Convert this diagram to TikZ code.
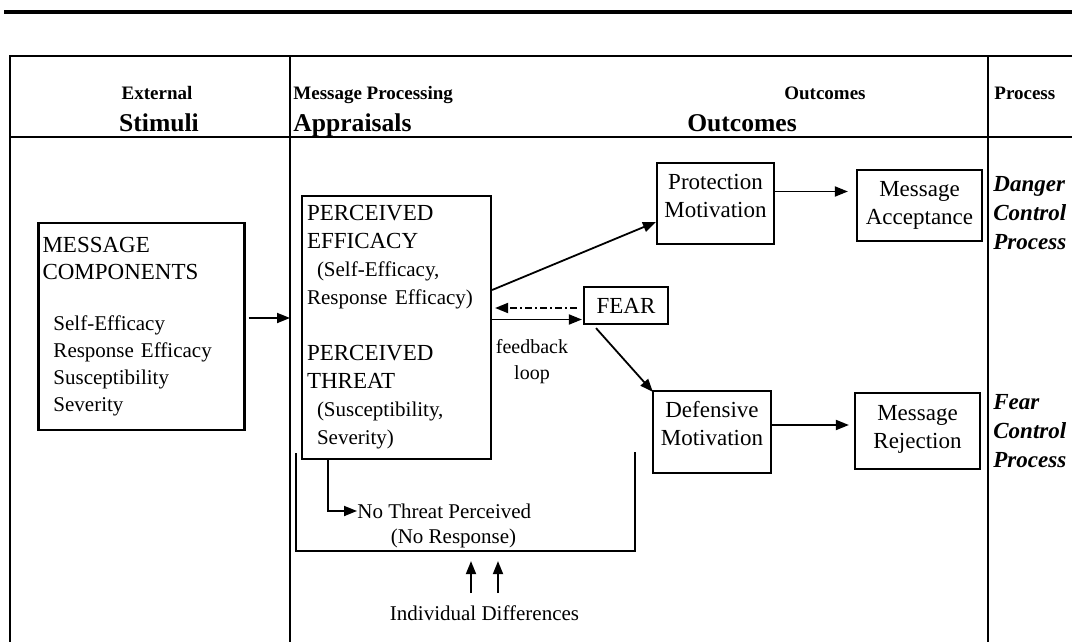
\documentclass[tikz,border=0pt]{standalone}
\usepackage{fontspec}
\setmainfont{Liberation Serif}
\usetikzlibrary{arrows.meta,positioning,calc}

\newcommand{\capfont}{\fontsize{11.5}{14}\selectfont}
\newcommand{\txtfont}{\fontsize{10.5}{13.5}\selectfont}

\begin{document}
\begin{tikzpicture}[x=0.5pt,y=-0.5pt,
            block/.style={rectangle, draw, line width=1.1pt, inner sep=2pt, font=\capfont, align=center},
            hdsmall/.style={font=\bfseries\fontsize{9.5}{11}\selectfont, inner sep=0pt, anchor=base},
            hdbig/.style={font=\bfseries\fontsize{12.8}{15}\selectfont, inner sep=0pt, anchor=base},
            proc/.style={font=\bfseries\itshape\fontsize{11.5}{14.4}\selectfont, align=left, inner sep=0pt, anchor=north west},
            lbl/.style={font=\txtfont, inner sep=0pt, align=center},
            arr/.style={-{Triangle[length=6.5pt,width=5pt]}, line width=0.9pt},
            rule/.style={line width=1pt}
        ]

        \useasboundingbox (0,0) rectangle (1072,642);

        % table
        \draw[line width=1.6pt] (4,12) -- (1072,12);
        \draw[rule] (1072,56) -- (10,56) -- (10,642);
        \draw[rule] (10,137) -- (1072,137);
        \draw[rule] (290,56) -- (290,642);
        \draw[rule] (988,56) -- (988,642);

        \node[hdsmall] (extl) at (157,100) {External};
        \node[hdbig] (stim) at (159,132) {Stimuli};
        \node[hdsmall, anchor=base west] (mproc) at (293,100) {Message Processing};
        \node[hdbig, anchor=base west] (appl) at (293,132) {Appraisals};
        \node[hdsmall] (outs) at (825,100) {Outcomes};
        \node[hdbig] (outb) at (742,132) {Outcomes};
        \node[hdsmall, anchor=base west] (prhd) at (994,100) {Process};

        % boxes
        \node[block, align=left, text width=99pt, minimum height=103.5pt, font=\txtfont] (comp) at (141.5,326.5)
            {{\capfont MESSAGE}\\{\capfont COMPONENTS}\\[12pt]
             \hspace*{5.5pt}Self-Efficacy\\\hspace*{5.5pt}Response Efficacy\\
             \hspace*{5.5pt}Susceptibility\\\hspace*{5.5pt}Severity};
        \node[block, align=left, text width=89.5pt, inner xsep=2.5pt, minimum height=131.5pt] (appr) at (396.5,327.5)
            {PERCEIVED\\EFFICACY\\
             {\txtfont\hspace*{5pt}(Self-Efficacy,}\\{\txtfont Response Efficacy)}\\[14pt]
             PERCEIVED\\THREAT\\
             {\txtfont\hspace*{5pt}(Susceptibility,}\\{\txtfont\hspace*{5pt}Severity)}};
        \node[block, minimum width=58.5pt, minimum height=40.5pt, text depth=7.5pt] (prot) at (715.5,203.5) {Protection\\Motivation};
        \node[block, minimum width=62.5pt, minimum height=35.5pt] (acc) at (919.5,205.5) {Message\\Acceptance};
        \node[block, minimum width=42pt, minimum height=18.5pt] (fear) at (626,305.5) {FEAR};
        \node[block, minimum width=59pt, minimum height=41pt, text depth=8.5pt] (def) at (712,432) {Defensive\\Motivation};
        \node[block, minimum width=62.5pt, minimum height=38pt, text depth=4pt] (rej) at (917.5,431) {Message\\Rejection};

        \node[proc] (dcp) at (993,176) {Danger\\Control\\Process};
        \node[proc] (fcp) at (993,394) {Fear\\Control\\Process};

        \node[lbl, font=\fontsize{10}{13}\selectfont] (fbk) at (532,362) {feedback\\loop};
        \node[lbl, anchor=west] (nothr) at (357,511) {No Threat Perceived};
        \node[lbl] (noresp) at (453.5,538) {(No Response)};
        \node[lbl] (indiv) at (484.5,613) {Individual Differences};

        % connectors
        \coordinate (colin) at (290,318);
        \draw[arr] ($(comp.east)+(3,-8.5)$) -- (colin);
        \draw[arr] ($(appr.east)+(0,-37.5)$) -- ($(prot.west)+(0,18.5)$);
        \draw[arr, dash pattern=on 3.5pt off 1.5pt on 1pt off 1.5pt] ($(fear.west)+(-6,2.5)$) -- ($(appr.east)+(3,-19.5)$);
        \draw[arr] ($(appr.east)+(0,-8)$) -- ($(fear.west)+(-1,14)$);
        \draw[arr] ($(fear.south)+(-30,3)$) -- ($(def.north west)+(1,2)$);
        \draw[arr] ($(prot.east)+(0,-12)$) -- ($(acc.west)+(-8,-14)$);
        \draw[arr] ($(def.east)+(0,-7)$) -- ($(rej.west)+(-5,-6)$);
        \draw[arr] ($(appr.south west)+(27,0)$) |- (nothr.west);

        \draw[rule] (296,453) -- (296,551) -- (635,551) -- (635,452);
        \foreach \dx in {-13.5,13.5}
            \draw[arr] ($(indiv.north)+(\dx,-12)$) -- ($(indiv.north)+(\dx,-44)$);

    \end{tikzpicture}
\end{document}
